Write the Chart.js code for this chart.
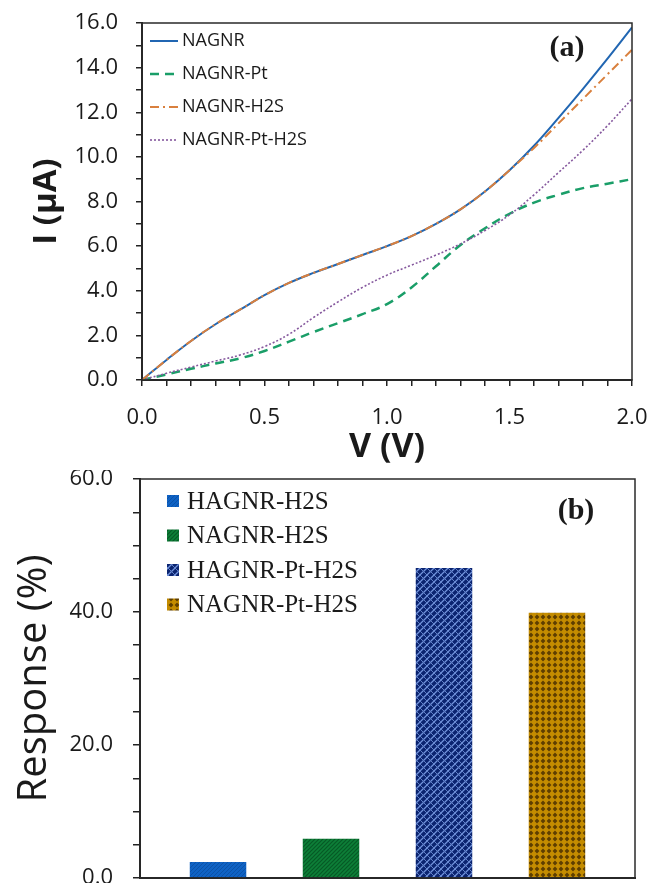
<!DOCTYPE html>
<html>
<head>
<meta charset="utf-8">
<script src="https://cdn.jsdelivr.net/npm/chart.js@4.4.1/dist/chart.umd.min.js"></script>
<style>
  html, body { margin: 0; padding: 0; background: #fff; }
  #painelA { position: absolute; left: 0; top: 0; }
  #painelB { position: absolute; left: 0; top: 470px; }
</style>
</head>
<body>
<canvas id="painelA" width="651" height="470"></canvas>
<canvas id="painelB" width="651" height="413"></canvas>
<script>
// ---- dados painel (a): curvas I-V ----
const voltage = [0.0, 0.1, 0.2, 0.3, 0.4, 0.5, 0.6, 0.7, 0.8, 0.9, 1.0, 1.1, 1.2, 1.3, 1.4, 1.5, 1.6, 1.7, 1.8, 1.9, 2.0];
const iNagnr      = [0, 0.9, 1.75, 2.5, 3.15, 3.8, 4.35, 4.8, 5.2, 5.6, 6.0, 6.45, 7.0, 7.65, 8.45, 9.4, 10.5, 11.75, 13.05, 14.4, 15.8];
const iNagnrPt    = [0, 0.25, 0.5, 0.74, 0.97, 1.3, 1.72, 2.15, 2.55, 2.95, 3.4, 4.15, 5.1, 6.05, 6.8, 7.45, 7.95, 8.3, 8.6, 8.8, 9.0];
const iNagnrH2s   = [0, 0.9, 1.75, 2.5, 3.15, 3.8, 4.35, 4.8, 5.2, 5.6, 6.0, 6.45, 7.0, 7.65, 8.45, 9.4, 10.4, 11.5, 12.6, 13.7, 14.8];
const iNagnrPtH2s = [0, 0.3, 0.58, 0.85, 1.12, 1.5, 2.05, 2.8, 3.5, 4.15, 4.7, 5.15, 5.6, 6.1, 6.7, 7.4, 8.3, 9.3, 10.3, 11.4, 12.6];
const correnteRotulos = [0, 2, 4, 6, 8, 10, 12, 14, 16];
const voltagemRotulos = [0, 0.5, 1.0, 1.5, 2.0];

// ---- dados painel (b): resposta ----
const respostaSeries = ["HAGNR-H2S", "NAGNR-H2S", "HAGNR-Pt-H2S", "NAGNR-Pt-H2S"];
const respostaValores = [2.4, 5.9, 46.6, 39.9];
const respostaRotulos = [0, 20, 40, 60];

Chart.defaults.font.family = '"Open Sans", sans-serif';
Chart.defaults.color = "#1a1a1a";
Chart.defaults.animation = false;

const pares = ys => voltage.map((v, i) => ({ x: v, y: ys[i] }));
const temRotulo = (lista, v) => lista.some(t => Math.abs(t - v) < 1e-6);

// tamanho fixo do eixo e sem folga extra para os rótulos das pontas
const eixoFixo = (largura, altura) => s => {
  if (largura != null) s.width = largura;
  if (altura != null) s.height = altura;
  s.paddingTop = s.paddingBottom = s.paddingLeft = s.paddingRight = 0;
};

// moldura em volta da área do gráfico
const moldura = {
  id: "moldura",
  afterDatasetsDraw(chart) {
    const { ctx, chartArea: a } = chart;
    ctx.save();
    ctx.strokeStyle = "#2a2a2a";
    ctx.lineWidth = 1.5;
    ctx.strokeRect(a.left, a.top, a.right - a.left, a.bottom - a.top);
    ctx.restore();
  }
};

// legenda do painel (a), dentro da área
const legendaA = {
  id: "legendaA",
  afterDraw(chart) {
    const ctx = chart.ctx;
    ctx.save();
    ctx.font = '18px "Open Sans"';
    ctx.textBaseline = "middle";
    chart.data.datasets.forEach((ds, i) => {
      const y = 41 + i * 33;
      ctx.strokeStyle = ds.borderColor;
      ctx.lineWidth = ds.borderWidth;
      ctx.setLineDash(ds.borderDash || []);
      ctx.beginPath();
      ctx.moveTo(150, y);
      ctx.lineTo(178, y);
      ctx.stroke();
      ctx.fillStyle = "#1a1a1a";
      ctx.fillText(ds.label, 182, y);
    });
    ctx.setLineDash([]);
    ctx.font = 'bold 30px "Liberation Serif"';
    ctx.textAlign = "center";
    ctx.fillText("(a)", 567, 48);
    ctx.restore();
  }
};

// legenda do painel (b)
const legendaB = {
  id: "legendaB",
  afterDraw(chart) {
    const ctx = chart.ctx;
    ctx.save();
    ctx.font = '25px "Liberation Serif"';
    ctx.textBaseline = "middle";
    chart.data.datasets.forEach((ds, i) => {
      const y = 31 + i * 34.5;
      ctx.fillStyle = ds.backgroundColor;
      ctx.fillRect(167, y - 6, 12, 12);
      ctx.fillStyle = "#1a1a1a";
      ctx.fillText(ds.label, 187, y + 1);
    });
    ctx.font = 'bold 30px "Liberation Serif"';
    ctx.textAlign = "center";
    ctx.fillText("(b)", 576, 41);
    ctx.restore();
  }
};

/* ---------- PAINEL (a) ---------- */
new Chart(document.getElementById("painelA"), {
  type: "line",
  data: {
    datasets: [
      { label: "NAGNR", data: pares(iNagnr), borderColor: "#2166b2", borderWidth: 2, order: 4 },
      { label: "NAGNR-Pt", data: pares(iNagnrPt), borderColor: "#1a9e68", borderWidth: 2.5, borderDash: [9, 6], order: 3 },
      { label: "NAGNR-H2S", data: pares(iNagnrH2s), borderColor: "#d9803e", borderWidth: 2, borderDash: [9, 4, 2, 4], order: 1 },
      { label: "NAGNR-Pt-H2S", data: pares(iNagnrPtH2s), borderColor: "#86599e", borderWidth: 1.6, borderDash: [2, 2], order: 2 }
    ]
  },
  options: {
    responsive: false,
    layout: { padding: { top: 23, right: 19, left: 0, bottom: 0 } },
    elements: { point: { radius: 0 }, line: { tension: 0.4, fill: false } },
    plugins: { legend: { display: false }, tooltip: { enabled: false } },
    scales: {
      x: {
        type: "linear", min: 0, max: 2,
        afterFit: eixoFixo(null, 90),
        ticks: {
          stepSize: 0.1, autoSkip: false, maxRotation: 0, padding: 19,
          font: { size: 22 },
          callback: v => temRotulo(voltagemRotulos, v) ? v.toFixed(1) : ""
        },
        grid: { drawOnChartArea: false, drawTicks: true, tickLength: 6, color: "#222", lineWidth: 1.5 },
        border: { display: true, color: "#222", width: 2 },
        title: { display: true, text: "V (V)", font: { size: 34, weight: "bold" }, padding: { top: 0, bottom: 2 } }
      },
      y: {
        min: 0, max: 16,
        afterFit: eixoFixo(142, null),
        ticks: {
          stepSize: 1, autoSkip: false, padding: 18,
          font: { size: 22 },
          callback: v => temRotulo(correnteRotulos, v) ? v.toFixed(1) : ""
        },
        grid: { drawOnChartArea: false, drawTicks: true, tickLength: 6, color: "#222", lineWidth: 1.5 },
        border: { display: true, color: "#222", width: 2 },
        title: { display: true, text: "I (μA)", font: { size: 33, weight: "bold" }, padding: { top: 27, bottom: 0 } }
      }
    }
  },
  plugins: [moldura, legendaA]
});

/* ---------- PAINEL (b) ---------- */
const ctxB = document.getElementById("painelB").getContext("2d");

function padrao(fundo, tam, desenhar) {
  const c = document.createElement("canvas");
  c.width = c.height = tam;
  const g = c.getContext("2d");
  g.fillStyle = fundo;
  g.fillRect(0, 0, tam, tam);
  desenhar(g, tam);
  return ctxB.createPattern(c, "repeat");
}

// linhas diagonais (sobe para a direita)
function diagonais(cor, larg) {
  return (g, t) => {
    g.strokeStyle = cor;
    g.lineWidth = larg;
    g.beginPath();
    g.moveTo(0, t); g.lineTo(t, 0);
    g.moveTo(-1, 1); g.lineTo(1, -1);
    g.moveTo(t - 1, t + 1); g.lineTo(t + 1, t - 1);
    g.stroke();
  };
}

const padroes = [
  padrao("#0f62c4", 4, diagonais("#0b52a8", 1)),
  padrao("#0d7f38", 4, diagonais("#075a26", 1.2)),
  padrao("#0b2470", 7, (g, t) => {
    diagonais("#7193dc", 1.3)(g, t);
    g.strokeStyle = "#6080c8";
    g.lineWidth = 1;
    g.beginPath();
    g.moveTo(0, 0); g.lineTo(t, t);
    g.stroke();
  }),
  padrao("#c48c00", 6, (g, t) => {
    g.fillStyle = "#5e3f00";
    g.beginPath();
    g.moveTo(t / 2, 0.6); g.lineTo(t - 0.6, t / 2); g.lineTo(t / 2, t - 0.6); g.lineTo(0.6, t / 2);
    g.closePath();
    g.fill();
  })
];

new Chart(ctxB, {
  type: "bar",
  data: {
    labels: [""],
    datasets: respostaSeries.map((nome, i) => ({
      label: nome,
      data: [respostaValores[i]],
      backgroundColor: padroes[i],
      borderWidth: 0,
      categoryPercentage: 0.913,
      barPercentage: 0.5
    }))
  },
  options: {
    responsive: false,
    layout: { padding: { top: 9, right: 16, left: 0, bottom: 0 } },
    plugins: { legend: { display: false }, tooltip: { enabled: false } },
    scales: {
      x: {
        afterFit: eixoFixo(null, 5),
        ticks: { display: false },
        grid: { display: false },
        border: { display: true, color: "#222", width: 2 }
      },
      y: {
        min: 0, max: 60,
        afterFit: eixoFixo(140, null),
        ticks: {
          stepSize: 5, autoSkip: false, padding: 20,
          font: { size: 22 },
          callback: v => temRotulo(respostaRotulos, v) ? v.toFixed(1) : ""
        },
        grid: { drawOnChartArea: false, drawTicks: true, tickLength: 7, color: "#222", lineWidth: 1.5 },
        border: { display: true, color: "#222", width: 2 },
        title: { display: true, text: "Response (%)", font: { size: 40 }, padding: { top: 11, bottom: 0 } }
      }
    }
  },
  plugins: [moldura, legendaB]
});
</script>
</body>
</html>
